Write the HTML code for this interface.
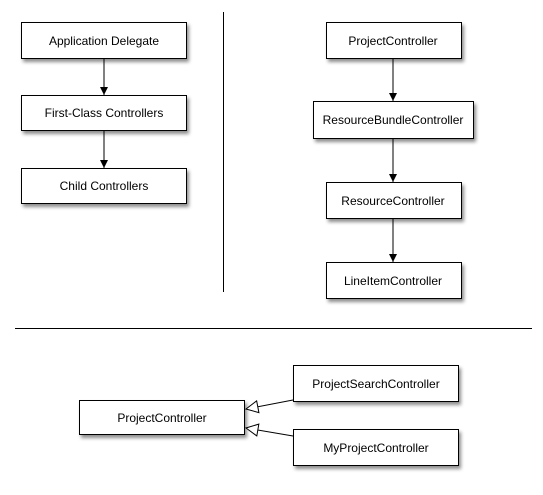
<!DOCTYPE html>
<html><head><style>html,body{margin:0;padding:0;background:#fff}</style></head><body>
<svg width="543" height="490" xmlns="http://www.w3.org/2000/svg" font-family="Liberation Sans, sans-serif" font-size="12">
<defs>
<filter id="s" x="-10%" y="-20%" width="130%" height="160%"><feDropShadow dx="2" dy="3" stdDeviation="1.8" flood-color="#000" flood-opacity="0.45"/></filter>
<marker id="a" markerWidth="10" markerHeight="10" refX="9" refY="5" orient="auto" markerUnits="userSpaceOnUse"><path d="M1,1 L9,5 L1,9 Z" fill="#000"/></marker>
<marker id="h" markerWidth="16" markerHeight="14" refX="13" refY="7" orient="auto" markerUnits="userSpaceOnUse"><path d="M1,1 L13,7 L1,13 Z" fill="#fff" stroke="#000"/></marker>
</defs>
<g stroke="#000" fill="#fff" filter="url(#s)">
<rect x="21.5" y="22.5" width="165" height="36"/>
<rect x="21.5" y="95.5" width="165" height="35"/>
<rect x="21.5" y="168.5" width="165" height="35"/>
<rect x="326.5" y="22.5" width="135" height="36"/>
<rect x="313.5" y="101.5" width="160" height="37"/>
<rect x="326.5" y="182.5" width="135" height="36"/>
<rect x="326.5" y="262.5" width="135" height="36"/>
<rect x="79.5" y="400.5" width="165" height="34"/>
<rect x="293.5" y="365.5" width="165" height="36"/>
<rect x="293.5" y="429.5" width="165" height="36"/>
</g>
<g stroke="#000" fill="none">
<line x1="223.5" y1="12" x2="223.5" y2="292"/>
<line x1="15" y1="328.5" x2="532" y2="328.5"/>
<line x1="104" y1="59" x2="104" y2="95" marker-end="url(#a)"/>
<line x1="104" y1="131" x2="104" y2="168" marker-end="url(#a)"/>
<line x1="393" y1="59" x2="393" y2="101" marker-end="url(#a)"/>
<line x1="393" y1="139" x2="393" y2="182" marker-end="url(#a)"/>
<line x1="393" y1="219" x2="393" y2="262" marker-end="url(#a)"/>
<line x1="293" y1="400" x2="246" y2="409" marker-end="url(#h)"/>
<line x1="293" y1="436" x2="246" y2="428" marker-end="url(#h)"/>
</g>
<g text-anchor="middle" fill="#000">
<text x="104" y="45">Application Delegate</text>
<text x="104" y="117">First-Class Controllers</text>
<text x="104" y="190">Child Controllers</text>
<text x="393" y="45">ProjectController</text>
<text x="393" y="124">ResourceBundleController</text>
<text x="393" y="205">ResourceController</text>
<text x="393" y="285">LineItemController</text>
<text x="162" y="422">ProjectController</text>
<text x="376" y="388">ProjectSearchController</text>
<text x="376" y="452">MyProjectController</text>
</g>
</svg>
</body></html>
